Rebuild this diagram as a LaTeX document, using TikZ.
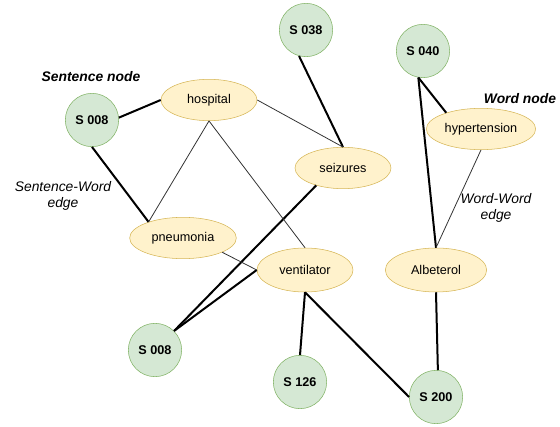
\documentclass[tikz,border=0pt]{standalone}
\usepackage{fontspec}
\setmainfont{Liberation Sans}
\usetikzlibrary{shapes.geometric}
\definecolor{sentfill}{HTML}{D5E8D4}
\definecolor{sentline}{HTML}{82B366}
\definecolor{wordfill}{HTML}{FFF2CC}
\definecolor{wordline}{HTML}{D6B656}

\tikzset{
	sent/.style={circle, draw=sentline, fill=sentfill, minimum size=40pt, inner sep=0pt, font=\fontsize{9.5}{11}\selectfont\bfseries},
	word/.style={ellipse, draw=wordline, fill=wordfill, minimum height=31pt, inner sep=0pt, font=\fontsize{9.5}{11}\selectfont},
	swedge/.style={line width=1.5pt},
	wwedge/.style={line width=0.6pt, black!80},
	note/.style={font=\fontsize{10.4}{12.5}\selectfont\itshape, align=center}
}

\begin{document}
\begin{tikzpicture}[x=0.75pt,y=-0.75pt]
	\useasboundingbox (0,0) rectangle (560,427);
	% sentence nodes
	\node[sent] (s008a) at (92,120) {S 008};
	\node[sent] (s038) at (306,30) {S 038};
	\node[sent] (s040) at (423,51) {S 040};
	\node[sent] (s008b) at (155,350) {S 008};
	\node[sent] (s126) at (300,382) {S 126};
	\node[sent] (s200) at (436,397) {S 200};
	% word nodes
	\node[word, minimum width=72pt] (hospital) at (209,100) {hospital};
	\node[word, minimum width=72pt] (seizures) at (343,168) {seizures};
	\node[word, minimum width=82pt] (hypertension) at (481,129) {hypertension};
	\node[word, minimum width=80pt] (pneumonia) at (183,238) {pneumonia};
	\node[word, minimum width=72pt, minimum height=33pt] (ventilator) at (305,270) {ventilator};
	\node[word, minimum width=76pt, minimum height=33pt] (albeterol) at (436,270) {Albeterol};
	% labels
	\node[note, font=\fontsize{10.4}{12.5}\selectfont\bfseries\itshape] (sentlabel) at (91,77) {Sentence node};
	\node[note, font=\fontsize{10.4}{12.5}\selectfont\bfseries\itshape] (wordlabel) at (520,99) {Word node};
	\node[note] (swlabel) at (63,196) {Sentence-Word\\edge};
	\node[note] (wwlabel) at (496,208) {Word-Word\\edge};
	% sentence-word edges
	\draw[swedge] (s008a.5) -- (hospital.west);
	\draw[swedge] (s008a.south) -- (pneumonia.155);
	\draw[swedge] (s038.255) -- (seizures.north);
	\draw[swedge] (seizures.213) -- (s008b.45);
	\draw[swedge] (ventilator.west) -- (s008b.45);
	\draw[swedge] (ventilator.south) -- (s126.north);
	\draw[swedge] (ventilator.south) -- (s200.west);
	\draw[swedge] (albeterol.south) -- (s200.86);
	\draw[swedge] (s040.260) -- (albeterol.north);
	\draw[swedge] (s040.260) -- (hypertension.155);
	% word-word edges
	\draw[wwedge] (hospital.south) -- (pneumonia.155);
	\draw[wwedge] (hospital.south) -- (ventilator.north);
	\draw[wwedge] (hospital.east) -- (seizures.north);
	\draw[wwedge] (pneumonia.-20) -- (ventilator.west);
	\draw[wwedge] (hypertension.south) -- (albeterol.north);
\end{tikzpicture}
\end{document}
